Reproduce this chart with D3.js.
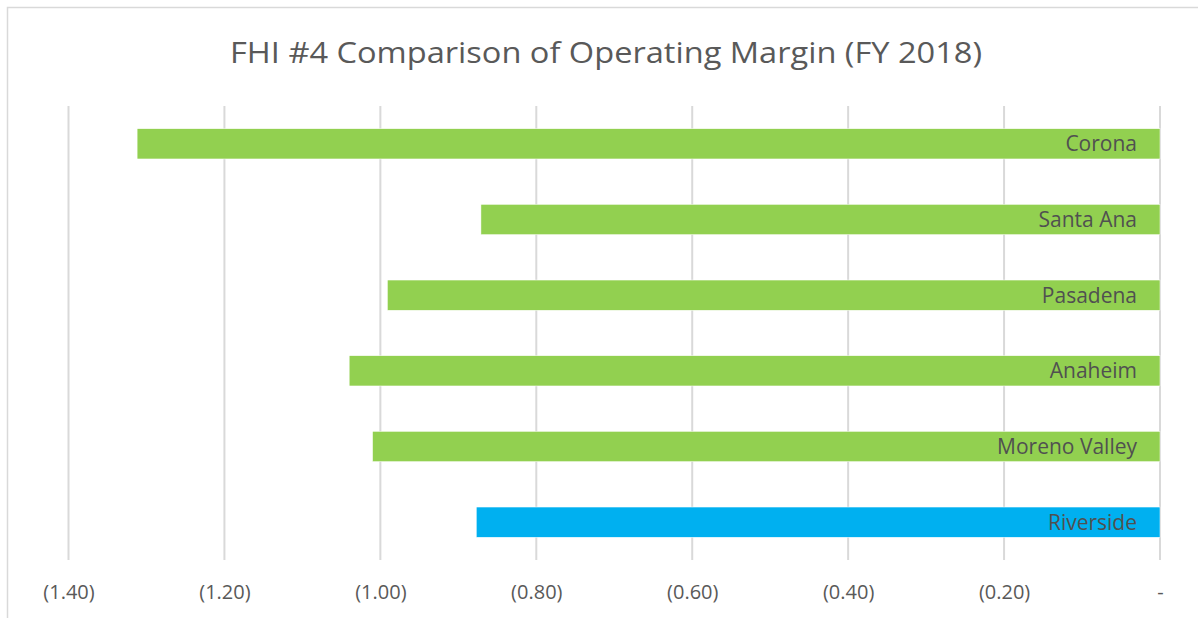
<!DOCTYPE html>
<html>
<head>
<meta charset="utf-8">
<script src="https://cdn.jsdelivr.net/npm/d3@7"></script>
<style>
  html, body { margin: 0; padding: 0; background: #fff; }
  #chart { width: 1198px; height: 618px; }
  text { font-family: "Open Sans", "Noto Sans", sans-serif; }
</style>
</head>
<body>
<div id="chart"></div>
<script>
// data, top to bottom
const cities = ["Corona", "Santa Ana", "Pasadena", "Anaheim", "Moreno Valley", "Riverside"];
const margins = [-1.312, -0.871, -0.991, -1.040, -1.010, -0.877];
const highlight = "Riverside";
const tickValues = [-1.4, -1.2, -1.0, -0.8, -0.6, -0.4, -0.2, 0];
const title = "FHI #4 Comparison of Operating Margin (FY 2018)";

const width = 1198, height = 618;
const margin = { top: 106, right: 38, bottom: 58, left: 68.5 };

let svg = d3.select("#chart").append("svg")
  .attr("width", width)
  .attr("height", height);

// chart frame
svg.append("rect")
  .attr("x", 7.5).attr("y", 7.5)
  .attr("width", width + 20).attr("height", height + 20)
  .attr("fill", "none")
  .attr("stroke", "#d9d9d9")
  .attr("stroke-width", 1.5);

svg.append("text")
  .attr("x", 606)
  .attr("y", 63)
  .attr("text-anchor", "middle")
  .attr("fill", "#595959")
  .attr("font-size", 29)
  .attr("textLength", 752)
  .attr("lengthAdjust", "spacingAndGlyphs")
  .text(title);

let x = d3.scaleLinear()
  .domain([-1.4, 0])
  .range([margin.left, width - margin.right]);

let y = d3.scaleBand()
  .domain(cities)
  .range([margin.top, height - margin.bottom])
  .paddingInner(0.6)
  .paddingOuter(0.3);

let fmt = d3.format(".2f");
let tickFormat = function(d) { return d === 0 ? "-" : "(" + fmt(Math.abs(d)) + ")"; };

// vertical gridlines
svg.append("g")
  .selectAll("line")
  .data(tickValues)
  .enter().append("line")
  .attr("x1", function(d) { return x(d); })
  .attr("x2", function(d) { return x(d); })
  .attr("y1", margin.top)
  .attr("y2", height - margin.bottom)
  .attr("stroke", "#d9d9d9")
  .attr("stroke-width", 2);

let xAxis = svg.append("g")
  .attr("transform", "translate(0," + (height - margin.bottom) + ")")
  .call(d3.axisBottom(x).tickValues(tickValues).tickFormat(tickFormat).tickSize(0).tickPadding(25));
xAxis.select(".domain").remove();
xAxis.attr("font-size", 20).attr("font-family", null);
xAxis.selectAll("text")
  .attr("fill", "#595959");

let rows = cities.map(function(c, i) { return { name: c, value: margins[i] }; });

svg.append("g")
  .selectAll("rect")
  .data(rows)
  .enter().append("rect")
  .attr("x", function(d) { return x(d.value); })
  .attr("y", function(d) { return y(d.name); })
  .attr("width", function(d) { return x(0) - x(d.value); })
  .attr("height", y.bandwidth())
  .attr("fill", function(d) { return d.name === highlight ? "#00b0f0" : "#92d050"; })
  .attr("stroke", "#fff")
  .attr("stroke-width", 0.5);

svg.append("g")
  .selectAll("text")
  .data(rows)
  .enter().append("text")
  .attr("x", x(0) - 23)
  .attr("y", function(d) { return y(d.name) + y.bandwidth() / 2; })
  .attr("dy", "0.36em")
  .attr("text-anchor", "end")
  .attr("fill", "#505050")
  .attr("font-size", 21)
  .text(function(d) { return d.name; });
</script>
</body>
</html>
